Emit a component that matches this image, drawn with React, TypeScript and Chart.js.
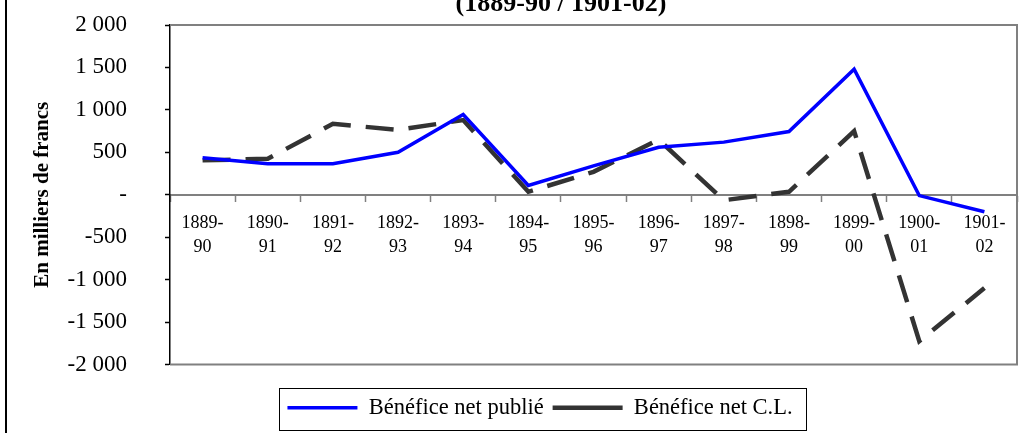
import React, { useEffect, useRef } from "react";
import { Chart, registerables } from "chart.js";

Chart.register(...registerables);

const FONT = "'Liberation Serif', 'Times New Roman', Times, serif";

const categories: string[][] = [
  ["1889-", "90"], ["1890-", "91"], ["1891-", "92"], ["1892-", "93"], ["1893-", "94"],
  ["1894-", "95"], ["1895-", "96"], ["1896-", "97"], ["1897-", "98"], ["1898-", "99"],
  ["1899-", "00"], ["1900-", "01"], ["1901-", "02"],
];
const beneficePublie = [435, 365, 365, 500, 945, 110, 340, 560, 620, 745, 1480, -10, -200];
const beneficeCL = [405, 425, 835, 765, 880, 35, 270, 650, -65, 35, 750, -1725, -1100];
const yTickValues = [-2000, -1500, -1000, -500, 0, 500, 1000, 1500, 2000];
const yTickLabels = ["-2 000", "-1 500", "-1 000", "-500", "-", "500", "1 000", "1 500", "2 000"];
const seriesNames = ["Bénéfice net publié", "Bénéfice net C.L."];
const chartTitle = "(1889-90 / 1901-02)";
const yAxisTitle = "En milliers de francs";

const boxShift = { titleX: 40, legendX: 19, legendY: 23 };

const shiftBoxes = {
  id: "shiftBoxes",
  afterLayout(chart: any) {
    const t = chart.titleBlock;
    if (t) {
      t.left += boxShift.titleX;
      t.right += boxShift.titleX;
    }
    const l = chart.legend;
    if (l) {
      l.left += boxShift.legendX;
      l.right += boxShift.legendX;
      l.top += boxShift.legendY;
      l.bottom += boxShift.legendY;
    }
  },
};

const plotFrame = {
  id: "plotFrame",
  beforeDatasetsDraw(chart: any) {
    const { left, right, top, bottom } = chart.chartArea;
    const ctx = chart.ctx;
    ctx.save();
    ctx.strokeStyle = "#808080";
    ctx.lineWidth = 2;
    ctx.beginPath();
    ctx.moveTo(left, top);
    ctx.lineTo(right, top);
    ctx.lineTo(right, bottom);
    ctx.lineTo(left, bottom);
    ctx.stroke();
    ctx.restore();
  },
};

const legendFrame = {
  id: "legendFrame",
  afterDraw(chart: any) {
    const l = chart.legend;
    const hb = l && l.legendHitBoxes;
    if (!hb || !hb.length) return;
    const first = hb[0];
    const last = hb[hb.length - 1];
    const ctx = chart.ctx;
    const x0 = Math.round(first.left - 8) + 0.5;
    const x1 = Math.round(last.left + last.width + 13) + 0.5;
    const y0 = Math.round(l.top) + 0.5;
    const y1 = Math.round(l.bottom + 1) + 0.5;
    ctx.save();
    ctx.strokeStyle = "#000";
    ctx.lineWidth = 1;
    ctx.strokeRect(x0, y0, x1 - x0, y1 - y0);
    ctx.restore();
  },
};

export default function App() {
  const ref = useRef<HTMLCanvasElement>(null);
  useEffect(() => {
    if (!ref.current) return;
    const chart = new Chart(ref.current, {
      type: "line",
      data: {
        labels: categories,
        datasets: [
          {
            label: seriesNames[0],
            data: beneficePublie,
            borderColor: "#0000FF",
            backgroundColor: "#0000FF",
            borderWidth: 3.5,
            pointRadius: 0,
            tension: 0,
            fill: false,
            borderJoinStyle: "miter",
          },
          {
            label: seriesNames[1],
            data: beneficeCL,
            borderColor: "#333333",
            backgroundColor: "#333333",
            borderWidth: 4.5,
            borderDash: [28, 15],
            pointRadius: 0,
            tension: 0,
            fill: false,
            borderJoinStyle: "miter",
          },
        ],
      },
      options: {
        responsive: false,
        animation: false,
        devicePixelRatio: 1,
        layout: { padding: { top: 9, left: 25, right: 18, bottom: 27 } },
        plugins: {
          tooltip: { enabled: false },
          title: {
            display: true,
            text: chartTitle,
            color: "#000",
            font: { family: FONT, size: 26, weight: "bold" },
            padding: { top: 0, bottom: 4.8 },
          },
          legend: {
            display: true,
            position: "bottom",
            labels: {
              color: "#000",
              font: { family: FONT, size: 22.5 },
              usePointStyle: true,
              pointStyle: "line",
              pointStyleWidth: 70,
              padding: 9,
            },
          },
        },
        scales: {
          x: {
            type: "category",
            offset: true,
            position: { y: 0 } as any,
            grid: {
              drawOnChartArea: false,
              offset: true,
              tickLength: 6,
              tickColor: "#808080",
              tickWidth: 1.5,
            },
            border: { color: "#808080", width: 2 },
            ticks: {
              color: "#000",
              font: { family: FONT, size: 18, lineHeight: "24px" },
              padding: 11,
              maxRotation: 0,
              autoSkip: false,
            },
          },
          y: {
            min: yTickValues[0],
            max: yTickValues[yTickValues.length - 1],
            ticks: {
              stepSize: 500,
              color: "#000",
              font: { family: FONT, size: 23 },
              padding: 38,
              callback: (v: any) => {
                const i = yTickValues.indexOf(Number(v));
                return i >= 0 ? yTickLabels[i] : "";
              },
            },
            grid: {
              drawOnChartArea: false,
              tickLength: 5,
              tickColor: "#000",
              tickWidth: 1.5,
            },
            border: { color: "#000", width: 1.5 },
            title: {
              display: true,
              text: yAxisTitle,
              color: "#000",
              font: { family: FONT, size: 21, weight: "bold" },
              padding: { top: 5, bottom: 0 },
            },
            afterFit: (scale: any) => {
              scale.width = 145;
              scale.paddingTop = 0;
              scale.paddingBottom = 0;
            },
          },
        },
      },
      plugins: [shiftBoxes, plotFrame, legendFrame],
    } as any);
    return () => chart.destroy();
  }, []);

  return (
    <div
      style={{
        position: "absolute",
        left: 0,
        top: 0,
        width: 1035,
        height: 433,
        overflow: "hidden",
        background: "#fff",
      }}
    >
      <div style={{ position: "absolute", left: 5, top: 0, width: 2, height: 433, background: "#000" }} />
      <canvas
        ref={ref}
        width={1035}
        height={453}
        style={{ position: "absolute", left: 0, top: -20, width: 1035, height: 453 }}
      />
    </div>
  );
}
